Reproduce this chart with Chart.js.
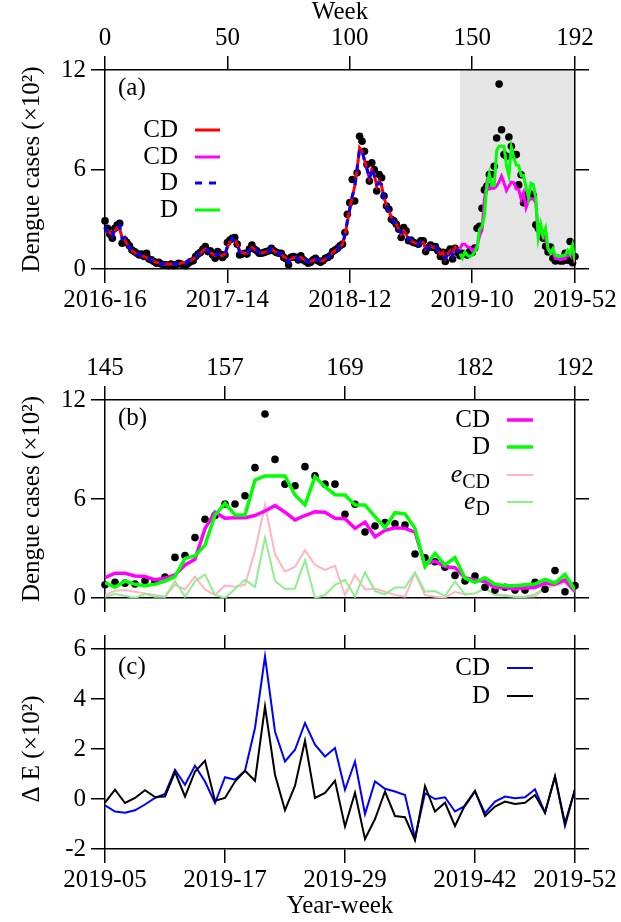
<!DOCTYPE html>
<html>
<head>
<meta charset="utf-8">
<script src="https://cdn.jsdelivr.net/npm/chart.js@4.4.1/dist/chart.umd.min.js"></script>
<style>
  body { margin: 0; background: #fff; width: 621px; height: 922px; position: relative; overflow: hidden; }
  canvas { position: absolute; left: 0; }
</style>
</head>
<body>
<canvas id="chartA" width="621" height="330" style="top:0px"></canvas>
<canvas id="chartB" width="621" height="295" style="top:330px"></canvas>
<canvas id="chartC" width="621" height="297" style="top:625px"></canvas>
<script>
// ---------- data (dengue cases, x10^2) ----------
const forecastStart = 145;

// observed weekly cases, weeks 0..144
const obsHistory = [
  2.9, 2.45, 2.1, 1.85, 2.45, 2.65, 2.75, 1.55, 1.75, 1.6,
  1.4, 1.15, 1.05, 0.95, 0.85, 0.9, 0.75, 0.95, 0.6, 0.55,
  0.45, 0.35, 0.4, 0.3, 0.25, 0.25, 0.2, 0.3, 0.2, 0.25,
  0.35, 0.3, 0.25, 0.2, 0.35, 0.45, 0.5, 0.75, 0.9, 1.0,
  1.2, 1.35, 1.05, 1.1, 0.85, 0.65, 1.05, 0.9, 0.7, 0.85,
  1.6, 1.75, 1.85, 1.9, 1.5, 0.85, 0.9, 0.95, 0.9, 1.2,
  1.45, 1.2, 1.1, 0.95, 0.95, 1.0, 1.05, 1.1, 1.25, 1.1,
  1.0, 0.95, 0.95, 0.7, 0.6, 0.25, 0.7, 0.75, 0.7, 0.55,
  0.8, 0.55, 0.45, 0.35, 0.4, 0.55, 0.65, 0.5, 0.4, 0.5,
  0.65, 0.7, 0.8, 1.05, 1.15, 1.25, 1.4, 1.5, 2.2, 3.3,
  4.0, 5.4, 4.1, 5.8, 8.0, 7.7, 7.1, 6.3, 5.3, 6.4,
  6.0, 4.7, 5.7, 5.5, 4.4, 3.8, 3.6, 3.0, 2.9, 2.7,
  2.4, 1.9, 2.5, 2.3, 1.7, 1.75, 1.6, 1.55, 1.5, 1.7,
  1.7, 1.05, 1.3, 1.45, 1.3, 1.35, 1.1, 0.75, 1.0, 0.45,
  1.0, 1.2, 0.6, 1.25, 1.0
];

// observed weekly cases, weeks 145..192 (test period)
const obsTest = [
  0.8, 0.95, 0.9, 0.85, 1.05, 1.0, 1.27, 2.46, 2.57, 3.66,
  4.77, 5.0, 5.7, 5.7, 6.2, 7.9, 11.15, 8.4, 6.9, 6.8,
  7.96, 7.4, 6.9, 6.9, 5.07, 5.68, 4.0, 4.36, 4.57, 4.5,
  4.42, 2.67, 2.44, 2.2, 1.86, 1.37, 1.03, 1.33, 0.65, 0.48,
  0.65, 0.48, 0.48, 0.95, 0.53, 1.66, 0.38, 0.75
];

// in-sample fits, weeks 0..145
const fitCD = [
  2.5, 2.3, 2.2, 2.0, 2.3, 2.5, 2.4, 1.9, 1.8, 1.5,
  1.3, 1.1, 1.0, 0.9, 0.85, 0.8, 0.75, 0.7, 0.6, 0.55,
  0.45, 0.4, 0.35, 0.3, 0.3, 0.28, 0.3, 0.3, 0.28, 0.3,
  0.32, 0.35, 0.4, 0.35, 0.45, 0.5, 0.6, 0.7, 0.85, 0.95,
  1.1, 1.2, 1.1, 1.0, 0.9, 0.8, 0.9, 0.85, 0.8, 0.9,
  1.3, 1.6, 1.8, 1.75, 1.5, 1.1, 1.0, 0.95, 0.95, 1.1,
  1.3, 1.2, 1.1, 1.0, 0.95, 1.0, 1.05, 1.1, 1.2, 1.1,
  1.0, 0.95, 0.9, 0.75, 0.65, 0.45, 0.6, 0.7, 0.7, 0.6,
  0.7, 0.6, 0.5, 0.45, 0.45, 0.5, 0.6, 0.55, 0.5, 0.5,
  0.6, 0.7, 0.8, 1.0, 1.1, 1.2, 1.35, 1.5, 2.0, 2.8,
  3.7, 4.3, 5.0, 6.0, 7.3, 7.1, 6.6, 6.0, 5.5, 6.0,
  5.7, 5.0, 5.3, 5.0, 4.3, 3.8, 3.5, 3.1, 2.9, 2.7,
  2.4, 2.1, 2.3, 2.1, 1.8, 1.7, 1.6, 1.55, 1.5, 1.6,
  1.6, 1.2, 1.3, 1.4, 1.3, 1.3, 1.1, 0.9, 1.0, 0.6,
  0.9, 1.1, 0.8, 1.3, 1.1, 1.2
];
const fitD = [
  2.6, 2.2, 2.3, 2.0, 2.4, 2.3, 2.6, 1.8, 1.9, 1.4,
  1.35, 1.05, 1.05, 0.85, 0.9, 0.75, 0.8, 0.65, 0.65, 0.5,
  0.5, 0.35, 0.4, 0.28, 0.32, 0.26, 0.3, 0.28, 0.3, 0.28,
  0.35, 0.32, 0.42, 0.33, 0.5, 0.45, 0.65, 0.65, 0.9, 0.9,
  1.15, 1.1, 1.15, 0.95, 0.95, 0.75, 0.95, 0.8, 0.85, 0.85,
  1.4, 1.5, 1.85, 1.7, 1.55, 1.0, 1.05, 0.9, 1.0, 1.05,
  1.35, 1.15, 1.15, 0.95, 1.0, 0.95, 1.1, 1.05, 1.25, 1.05,
  1.05, 0.9, 0.95, 0.7, 0.7, 0.4, 0.65, 0.65, 0.75, 0.55,
  0.75, 0.55, 0.55, 0.4, 0.5, 0.45, 0.65, 0.5, 0.55, 0.45,
  0.65, 0.65, 0.85, 0.95, 1.15, 1.15, 1.4, 1.45, 2.1, 2.9,
  3.6, 4.4, 4.9, 6.1, 7.2, 7.2, 6.5, 6.1, 5.4, 6.1,
  5.6, 5.1, 5.2, 5.1, 4.2, 3.9, 3.4, 3.2, 2.8, 2.8,
  2.3, 2.2, 2.2, 2.2, 1.75, 1.75, 1.55, 1.6, 1.45, 1.65,
  1.55, 1.25, 1.25, 1.45, 1.25, 1.35, 1.05, 0.95, 0.95, 0.65,
  0.85, 1.15, 0.8, 1.25, 1.05, 1.1
];

// forecasts, weeks 145..192
const fcCD = [
  1.23, 1.5, 1.5, 1.33, 1.3, 1.1, 1.2, 1.4, 2.0, 2.34,
  4.2, 5.2, 4.83, 4.87, 4.87, 5.0, 5.27, 5.6, 5.2, 4.73,
  5.0, 5.23, 5.2, 4.83, 4.8, 4.22, 4.6, 3.7, 4.1, 4.26,
  4.22, 4.0, 2.04, 2.24, 1.9, 1.84, 1.23, 1.1, 1.0, 0.63,
  0.63, 0.55, 0.6, 0.63, 0.9, 0.83, 1.1, 0.38
];
const fcD = [
  0.93, 0.65, 1.03, 0.83, 0.75, 0.83, 1.03, 1.3, 2.4, 2.55,
  3.2, 5.03, 5.74, 5.03, 5.03, 7.15, 7.4, 7.4, 7.4, 6.24,
  5.64, 7.35, 6.75, 6.26, 6.24, 5.64, 5.64, 4.93, 4.26, 5.17,
  5.1, 4.22, 1.9, 2.7, 2.0, 2.44, 1.2, 0.95, 1.23, 0.83,
  0.75, 0.75, 0.8, 0.85, 1.13, 0.9, 1.43, 0.48
];

// absolute forecast errors, weeks 145..192
const errCD = [
  0.18, 0.44, 0.48, 0.38, 0.28, 0.18, 0.08, 0.8, 0.52, 1.3,
  0.52, 0.18, 0.75, 0.68, 0.8, 2.85, 5.64, 2.65, 1.6, 1.9,
  2.9, 2.0, 1.7, 1.95, 0.18, 1.4, 0.52, 0.58, 0.38, 0.18,
  0.08, 1.5, 0.18, 0.08, 0.02, 0.38, 0.22, 0.28, 0.58, 0.22,
  0.18, 0.08, 0.08, 0.1, 0.58, 0.75, 0.9, 0.38
];
const errD = [
  0.08, 0.24, 0.14, 0.0, 0.24, 0.08, 0.08, 1.03, 0.08, 1.0,
  1.43, 0.18, 0.0, 0.55, 1.1, 0.68, 3.66, 1.03, 0.55, 0.58,
  2.3, 0.0, 0.18, 0.8, 1.1, 0.08, 1.55, 0.42, 0.22, 0.63,
  0.63, 1.55, 0.38, 0.42, 0.12, 1.0, 0.22, 0.28, 0.58, 0.18,
  0.12, 0.08, 0.08, 0.22, 0.63, 0.83, 1.0, 0.38
];

// error difference, weeks 145..192
const deltaCD = [
  -0.25, -0.5, -0.55, -0.45, -0.22, 0.04, 0.2, 1.17, 0.57, 1.33,
  0.7, -0.16, 0.87, 0.77, 1.13, 2.84, 5.7, 2.7, 1.5, 1.97,
  3.04, 2.17, 1.7, 2.04, 0.37, 1.5, -0.6, 0.7, 0.41, 0.3,
  0.16, -1.57, 0.23, 0.0, 0.07, -0.5, -0.28, 0.3, -0.57, -0.1,
  0.1, 0.03, 0.07, 0.39, -0.55, 0.9, -1.08, 0.39
];
const deltaD = [
  -0.15, 0.37, -0.16, 0.04, 0.35, 0.08, 0.1, 1.08, 0.1, 1.1,
  1.53, -0.07, 0.04, 0.7, 1.13, 0.73, 3.7, 0.97, -0.45, 0.53,
  2.33, 0.04, 0.24, 0.73, -1.1, 0.25, -1.6, -0.8, 0.3, -0.68,
  -0.73, -1.64, 0.52, -0.5, -0.15, -1.08, -0.24, 0.33, -0.68, -0.3,
  -0.1, -0.2, -0.15, 0.16, -0.55, 0.9, -0.97, 0.39
];

// axis ticks
const weekTicks = [0, 50, 100, 150, 192];
const weekTickLabels = ['2016-16', '2017-14', '2018-12', '2019-10', '2019-52'];
const testTicks = [145, 157, 169, 182, 192];
const testTickLabels = ['2019-05', '2019-17', '2019-29', '2019-42', '2019-52'];
const casesTicks = [0, 6, 12];
const deltaTicks = [-2, 0, 2, 4, 6];

// ---------- helpers ----------
const FONT = "'Liberation Serif', 'Times New Roman', serif";
Chart.defaults.font.family = FONT;
Chart.defaults.font.size = 25;
Chart.defaults.color = '#000';

const tickFont = { family: FONT, size: 25, lineHeight: 1.2 };
const toPoints = (vals, start) => vals.map((v, i) => ({ x: start + i, y: v }));

function lineSet(vals, start, color, width, dash) {
  return {
    data: toPoints(vals, start), showLine: true, borderColor: color, backgroundColor: color,
    borderWidth: width, borderDash: dash || [], pointRadius: 0, tension: 0, fill: false
  };
}
function dotSet(vals, start) {
  return {
    data: toPoints(vals, start), showLine: false, backgroundColor: '#000', borderColor: '#000',
    borderWidth: 0, pointRadius: 3.8, clip: false
  };
}

function hAxis(position, min, max, values, labels, height, title) {
  return {
    type: 'linear', position, min, max,
    afterBuildTicks: s => { s.ticks = values.map(v => ({ value: v })); },
    afterFit: s => { s.height = height; },
    ticks: {
      display: !!labels, autoSkip: false, maxRotation: 0, minRotation: 0, padding: 2.5, font: tickFont,
      callback: (v, i) => (labels ? String(labels[i]) : '')
    },
    grid: { drawOnChartArea: false, drawTicks: true, tickLength: 14, color: '#000', lineWidth: 1.5 },
    border: { display: true, color: '#000', width: 1.5 },
    title: title || { display: false }
  };
}
function vAxis(position, min, max, values, showLabels, width) {
  return {
    type: 'linear', position, min, max,
    afterBuildTicks: s => { s.ticks = values.map(v => ({ value: v })); },
    afterFit: s => { s.width = width; },
    ticks: { display: showLabels, padding: 5, font: tickFont, callback: v => String(v) },
    grid: { drawOnChartArea: false, drawTicks: true, tickLength: 14, color: '#000', lineWidth: 1.5 },
    border: { display: true, color: '#000', width: 1.5 }
  };
}

// panel tag, rotated y title, hand-made legend and shaded forecast window
function decor(spec) {
  return {
    id: 'decor',
    beforeDraw(chart) {
      if (spec.shadeFrom === undefined) return;
      const { ctx, chartArea: a, scales } = chart;
      const x0 = scales.x.getPixelForValue(spec.shadeFrom);
      ctx.save();
      ctx.fillStyle = '#e5e5e5';
      ctx.fillRect(x0, a.top, a.right - x0, a.bottom - a.top);
      ctx.restore();
    },
    afterDraw(chart) {
      const { ctx, chartArea: a } = chart;
      ctx.save();
      ctx.fillStyle = '#000';
      ctx.font = '25px ' + FONT;
      ctx.textBaseline = 'middle';
      ctx.textAlign = 'left';
      ctx.fillText(spec.tag, a.left + 13, a.top + 18);

      ctx.save();
      ctx.translate(32, (a.top + a.bottom) / 2);
      ctx.rotate(-Math.PI / 2);
      ctx.textAlign = 'center';
      ctx.fillText(spec.yTitle, 0, 0);
      ctx.restore();

      spec.legend.forEach((item, i) => {
        const y = a.top + spec.rows[i];
        ctx.fillStyle = '#000';
        if (item.sub) {
          ctx.textAlign = 'left';
          ctx.textBaseline = 'alphabetic';
          ctx.font = '20px ' + FONT;
          const ws = ctx.measureText(item.sub).width;
          ctx.fillText(item.sub, spec.textRight - ws, y + 13);
          ctx.font = 'italic 26px ' + FONT;
          const we = ctx.measureText('e').width;
          ctx.fillText('e', spec.textRight - ws - we, y + 7);
        } else {
          ctx.font = '25px ' + FONT;
          ctx.textAlign = 'right';
          ctx.textBaseline = 'middle';
          ctx.fillText(item.label, spec.textRight, y);
        }
        ctx.beginPath();
        ctx.strokeStyle = item.color;
        ctx.lineWidth = item.width;
        ctx.setLineDash(item.dash || []);
        ctx.moveTo(spec.lineX[0], y);
        ctx.lineTo(spec.lineX[1], y);
        ctx.stroke();
        ctx.setLineDash([]);
      });
      ctx.restore();
    }
  };
}

const baseOptions = {
  responsive: false, animation: false, devicePixelRatio: 1, events: [],
  layout: { padding: 0 },
  plugins: { legend: { display: false }, tooltip: { enabled: false } }
};

// ---------- (a) full series ----------
new Chart(document.getElementById('chartA'), {
  type: 'scatter',
  data: {
    datasets: [
      lineSet(fitD, 0, '#0000ff', 3, [7, 7]),
      lineSet(fitCD, 0, '#ff0000', 3),
      lineSet(fcD, forecastStart, '#00ff00', 3),
      lineSet(fcCD, forecastStart, '#ff00ff', 3),
      dotSet(obsHistory.concat(obsTest), 0)
    ]
  },
  options: Object.assign({}, baseOptions, {
    scales: {
      x: hAxis('bottom', 0, 192, weekTicks, weekTickLabels, 61),
      x2: hAxis('top', 0, 192, weekTicks, weekTicks, 70,
        { display: true, text: 'Week', font: { family: FONT, size: 25, lineHeight: 1 }, padding: { top: 0, bottom: 0 } }),
      y: vAxis('left', 0, 12, casesTicks, true, 105),
      y2: vAxis('right', 0, 12, casesTicks, false, 46)
    }
  }),
  plugins: [decor({
    tag: '(a)', yTitle: 'Dengue cases (×10²)', shadeFrom: forecastStart,
    textRight: 178, lineX: [195, 220], rows: [60, 87, 113, 140],
    legend: [
      { label: 'CD', color: '#ff0000', width: 3 },
      { label: 'CD', color: '#ff00ff', width: 3 },
      { label: 'D', color: '#0000ff', width: 3, dash: [7, 7] },
      { label: 'D', color: '#00ff00', width: 3 }
    ]
  })]
});

// ---------- (b) forecast window ----------
new Chart(document.getElementById('chartB'), {
  type: 'scatter',
  data: {
    datasets: [
      lineSet(fcD, forecastStart, '#00ff00', 3.5),
      lineSet(fcCD, forecastStart, '#ff00ff', 3.5),
      dotSet(obsTest, forecastStart),
      lineSet(errD, forecastStart, '#90ee90', 2),
      lineSet(errCD, forecastStart, '#ffb6c1', 2)
    ]
  },
  options: Object.assign({}, baseOptions, {
    scales: {
      x: hAxis('bottom', 145, 192, testTicks, null, 27),
      x2: hAxis('top', 145, 192, testTicks, testTicks, 70),
      y: vAxis('left', 0, 12, casesTicks, true, 105),
      y2: vAxis('right', 0, 12, casesTicks, false, 46)
    }
  }),
  plugins: [decor({
    tag: '(b)', yTitle: 'Dengue cases (×10²)',
    textRight: 490, lineX: [507, 533], rows: [20, 47, 75, 102],
    legend: [
      { label: 'CD', color: '#ff00ff', width: 3.5 },
      { label: 'D', color: '#00ff00', width: 3.5 },
      { sub: 'CD', color: '#ffb6c1', width: 2 },
      { sub: 'D', color: '#90ee90', width: 2 }
    ]
  })]
});

// ---------- (c) error difference ----------
new Chart(document.getElementById('chartC'), {
  type: 'scatter',
  data: {
    datasets: [
      lineSet([0, 0], 0, '#ffa500', 2.5),
      lineSet(deltaD, forecastStart, '#000000', 2),
      lineSet(deltaCD, forecastStart, '#0000ff', 2)
    ]
  },
  options: Object.assign({}, baseOptions, {
    scales: {
      x: hAxis('bottom', 145, 192, testTicks, testTickLabels, 73,
        { display: true, text: 'Year-week', font: { family: FONT, size: 25, lineHeight: 1.2 }, padding: { top: 0, bottom: 1 } }),
      x2: hAxis('top', 145, 192, testTicks, null, 24),
      y: vAxis('left', -2, 6, deltaTicks, true, 105),
      y2: vAxis('right', -2, 6, deltaTicks, false, 46)
    }
  }),
  plugins: [decor({
    tag: '(c)', yTitle: 'Δ E (×10²)',
    textRight: 490, lineX: [507, 533], rows: [19, 47],
    legend: [
      { label: 'CD', color: '#0000ff', width: 2 },
      { label: 'D', color: '#000000', width: 2 }
    ]
  })]
});
</script>
</body>
</html>
